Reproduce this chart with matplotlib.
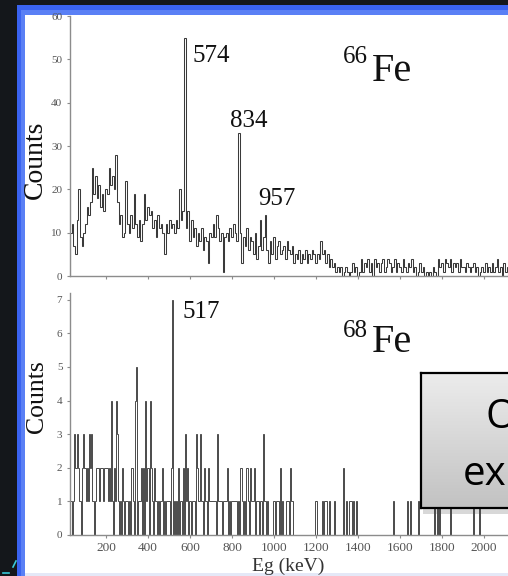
import numpy as np
import matplotlib
matplotlib.use("Agg")
import matplotlib.pyplot as plt
from matplotlib.patches import Rectangle
from matplotlib.lines import Line2D
from matplotlib.colors import LinearSegmentedColormap

# ---------------- data ----------------
# 66Fe spectrum: counts in 8 keV bins starting at 28 keV
fe66_start = 28
fe66_binw = 8
fe66_counts = [
    10, 12, 7, 5, 13, 20, 9, 7, 10, 12,
    16, 14, 17, 25, 19, 23, 18, 21, 16, 19,
    15, 20, 19, 25, 21, 23, 20, 28, 17, 12,
    14, 9, 10, 22, 12, 10, 14, 11, 19, 12,
    9, 13, 8, 12, 19, 13, 16, 14, 15, 11,
    13, 9, 14, 11, 12, 10, 5, 12, 10, 13,
    11, 12, 10, 13, 11, 20, 13, 15, 55, 11,
    15, 8, 13, 9, 11, 7, 10, 8, 11, 6,
    9, 8, 3, 10, 9, 12, 9, 14, 11, 8,
    10, 1, 9, 10, 8, 11, 9, 12, 10, 8,
    33, 10, 3, 9, 7, 11, 6, 9, 8, 5,
    10, 4, 7, 13, 6, 9, 14, 6, 3, 8,
    5, 9, 4, 7, 8, 5, 6, 7, 4, 8,
    6, 5, 7, 3, 5, 4, 6, 3, 5, 4,
    6, 3, 5, 4, 6, 5, 3, 5, 4, 8,
    5, 6, 3, 5, 2, 4, 2, 3, 1,
    2, 1, 2, 0, 1, 2, 1, 0, 1, 3, 1, 2, 0, 1,
    4, 1, 3, 2, 4, 1, 3, 0, 4, 2, 3, 1,
    3, 4, 1, 2, 4, 3, 1, 2, 4, 1, 3, 2, 1, 4,
    2, 1, 3, 2, 4, 1, 2, 0, 1, 3, 1, 2,
    0, 1, 0, 1, 0, 2, 1, 0,
    4, 2, 3, 1, 4, 3, 2, 4, 1, 3, 2, 3, 1, 4, 2,
    2, 1, 3, 2, 1, 2, 3, 1, 2, 0, 1, 2, 1, 3, 1,
    2, 1, 3, 1, 2, 4, 1, 2, 0, 3, 1, 2,
]

# 68Fe spectrum: non-empty 5 keV bins (energy keV, counts)
fe68_energy = [
    30, 35, 45, 50, 55, 60, 65, 70, 75, 80, 90, 95, 100, 105, 110, 115, 120, 125, 130, 135, 140,
    150, 155, 160, 165, 170, 175, 180, 185, 190, 195, 200, 205, 210, 215, 220, 225, 230, 240, 245, 250, 255, 260,
    270, 280, 285, 295, 300, 310, 320, 325, 330, 340, 345, 355, 360, 365, 370, 380, 390, 395, 400, 410, 415, 420,
    430, 435, 440, 450, 460, 465, 470, 480, 490, 495, 500, 510, 517, 525, 535, 545, 555, 560, 570, 580, 585, 590, 600,
    610, 615, 620, 630, 635, 640, 645, 650, 655, 660, 670, 675, 680, 690, 695, 700, 705, 710, 715, 720, 730, 735,
    740, 745, 750, 760, 765, 770, 775, 780, 790, 800, 805, 810, 815, 820, 830, 840, 845, 850, 860, 870, 875, 880,
    890, 895, 900, 905, 915, 920, 925, 935, 940, 950, 955, 960, 970, 1000, 1010, 1015, 1020, 1030, 1040, 1060,
    1065, 1070, 1080, 1085, 1090, 1200, 1230, 1240, 1245, 1250, 1265, 1290, 1330, 1345, 1360, 1365, 1370, 1380,
    1395, 1570, 1635, 1650, 1690, 1765, 1780, 1790, 1840, 1950, 1980,
]
fe68_counts = [
    1, 1, 1, 3, 2, 2, 3, 2, 1, 1, 2, 3, 2, 1, 2, 1, 3, 2, 3, 1, 1,
    1, 2, 2, 2, 1, 2, 2, 2, 1, 2, 2, 2, 1, 2, 1, 4, 1, 2, 1, 4, 3, 1,
    1, 2, 1, 1, 1, 1, 2, 2, 1, 4, 5, 1, 1, 1, 2, 2, 4, 1, 2, 4, 2, 1,
    2, 1, 1, 1, 1, 1, 2, 1, 1, 1, 1, 2, 7, 1, 1, 2, 1, 1, 2, 3, 1, 2, 1,
    1, 1, 1, 3, 2, 1, 1, 3, 1, 1, 2, 1, 1, 2, 1, 1, 1, 1, 1, 1, 3, 1,
    1, 1, 1, 1, 1, 1, 1, 2, 1, 1, 1, 1, 1, 1, 1, 2, 2, 1, 1, 2, 2, 1,
    2, 1, 1, 2, 1, 1, 1, 1, 1, 3, 1, 1, 1, 1, 1, 1, 1, 2, 1, 1,
    1, 1, 2, 1, 1, 1, 1, 1, 1, 1, 1, 1, 2, 1, 1, 1, 1, 1,
    1, 1, 1, 1, 1, 1, 1, 1, 1, 1, 1,
]

fe66_peaks = [574, 834, 957]
fe68_peaks = [517]
x_ticks = [200, 400, 600, 800, 1000, 1200, 1400, 1600, 1800, 2000]
top_yticks = [0, 10, 20, 30, 40, 50, 60]
bot_yticks = [0, 1, 2, 3, 4, 5, 6, 7]

# ---------------- figure ----------------
W, H = 508, 576
fig = plt.figure(figsize=(W / 100, H / 100), dpi=100)
fig.patch.set_facecolor("#14171b")

def fx(px):
    return px / W

def fy(py):
    return 1 - py / H

def frect(x0, y0, x1, y1, color, z=0):
    r = Rectangle((fx(x0), fy(y1)), fx(x1) - fx(x0), fy(y0) - fy(y1),
                  transform=fig.transFigure, facecolor=color, edgecolor="none", zorder=z)
    fig.add_artist(r)

# slide frame
frect(17, 5, W, H, "#3a63f0", z=-5)
frect(21, 10, W, H, "#5a80f5", z=-5)
frect(25, 15, W, H, "white", z=-4)
frect(25, 573, W, H, "#e4e8f7", z=-4)
fig.add_artist(Line2D([fx(13), fx(16)], [fy(567), fy(561)], transform=fig.transFigure,
                      color="#38c8d8", lw=1.2))
fig.add_artist(Line2D([fx(3), fx(9)], [fy(573), fy(573)], transform=fig.transFigure,
                      color="#38c8d8", lw=1.2))

serif = ["Liberation Serif", "DejaVu Serif"]
gray = "#8c8c8c"
lab_col = "#555555"

# axes geometry (pixels)
x_left_px = 70
x_right_px = 560
k_per_px = 1 / 0.21
x0_kev = (x_left_px - 64) * k_per_px
x1_kev = (x_right_px - 64) * k_per_px

ax1 = fig.add_axes([fx(x_left_px), fy(276), fx(x_right_px) - fx(x_left_px), fy(16) - fy(276)])
ax2 = fig.add_axes([fx(x_left_px), fy(535), fx(x_right_px) - fx(x_left_px), fy(293) - fy(535)])

for ax in (ax1, ax2):
    ax.set_facecolor("none")
    ax.set_xlim(x0_kev, x1_kev)
    for s in ("top", "right"):
        ax.spines[s].set_visible(False)
    for s in ("left", "bottom"):
        ax.spines[s].set_color(gray)
        ax.spines[s].set_linewidth(1.0)
    ax.set_xticks(x_ticks)
    ax.tick_params(axis="both", direction="out", length=2.5, width=0.8, color=gray,
                   labelcolor=lab_col)
    ax.tick_params(axis="y", pad=3)

# top spectrum
edges66 = fe66_start + fe66_binw * np.arange(len(fe66_counts) + 1)
ax1.stairs(fe66_counts, edges66, color="#3a3a3a", lw=0.75)
ax1.set_ylim(0, 60)
ax1.set_yticks(top_yticks)
ax1.set_yticklabels([str(v) for v in top_yticks], family=serif, fontsize=8)
ax1.set_xticklabels([])

# bottom spectrum
edges68 = np.arange(27.5, 2400, 5.0)
hist68 = np.zeros(len(edges68) - 1)
idx = ((np.array(fe68_energy) - 27.5) // 5).astype(int)
for i, c in zip(idx, fe68_counts):
    hist68[i] = max(hist68[i], c)
ax2.stairs(hist68, edges68, color="#4a4a4a", lw=0.7)
ax2.set_ylim(0, 7.2)
ax2.set_yticks(bot_yticks)
ax2.set_yticklabels([str(v) for v in bot_yticks], family=serif, fontsize=8)
ax2.set_xticklabels([str(v) for v in x_ticks], family=serif, fontsize=9.5)
ax2.tick_params(axis="x", pad=2.5)

# texts
fig.text(fx(35), fy(160), "Counts", rotation=90, ha="center", va="center",
         family=serif, fontsize=20, color="#111111")
fig.text(fx(37), fy(397), "Counts", rotation=90, ha="center", va="center",
         family=serif, fontsize=18.5, color="#111111")
fig.text(fx(288), fy(566), "Eg (keV)", ha="center", va="center",
         family=serif, fontsize=14, color="#333333")

peak_pos = {574: (193, 62), 834: (230, 127), 957: (258, 205)}
for p in fe66_peaks:
    x, y = peak_pos[p]
    fig.text(fx(x), fy(y), str(p), ha="left", va="baseline", family=serif,
             fontsize=18, color="#111111")
for p in fe68_peaks:
    fig.text(fx(182), fy(318), str(p), ha="left", va="baseline", family=serif,
             fontsize=18, color="#111111")

fig.text(fx(343), fy(63), "66", ha="left", va="baseline", family=serif, fontsize=18, color="#111111")
fig.text(fx(372), fy(81), "Fe", ha="left", va="baseline", family=serif, fontsize=29, color="#111111")
fig.text(fx(343), fy(337), "68", ha="left", va="baseline", family=serif, fontsize=18, color="#111111")
fig.text(fx(372), fy(352), "Fe", ha="left", va="baseline", family=serif, fontsize=29, color="#111111")

# overlay callout box (cut off at the right edge, as in the reference)
frect(423, 508, 640, 514, "#d8d8d8", z=-3)
bx = fig.add_axes([fx(421), fy(508), fx(700) - fx(421), fy(373) - fy(508)])
cmap = LinearSegmentedColormap.from_list("g", ["#c2c2c2", "#ececec"])
bx.imshow(np.linspace(0, 1, 200).reshape(-1, 1)[::-1], cmap=cmap, aspect="auto",
          extent=[0, 1, 0, 1], origin="upper")
bx.set_xlim(0, 1)
bx.set_ylim(0, 1)
bx.set_xticks([])
bx.set_yticks([])
for s in bx.spines.values():
    s.set_color("black")
    s.set_linewidth(1.6)
fig.text(fx(485), fy(428), "O", ha="left", va="baseline", family=["Open Sans", "DejaVu Sans"],
         fontsize=29, color="black")
fig.text(fx(463), fy(485), "ex", ha="left", va="baseline", family=["Open Sans", "DejaVu Sans"],
         fontsize=29, color="black")

fig.savefig("out.png", dpi=100)
